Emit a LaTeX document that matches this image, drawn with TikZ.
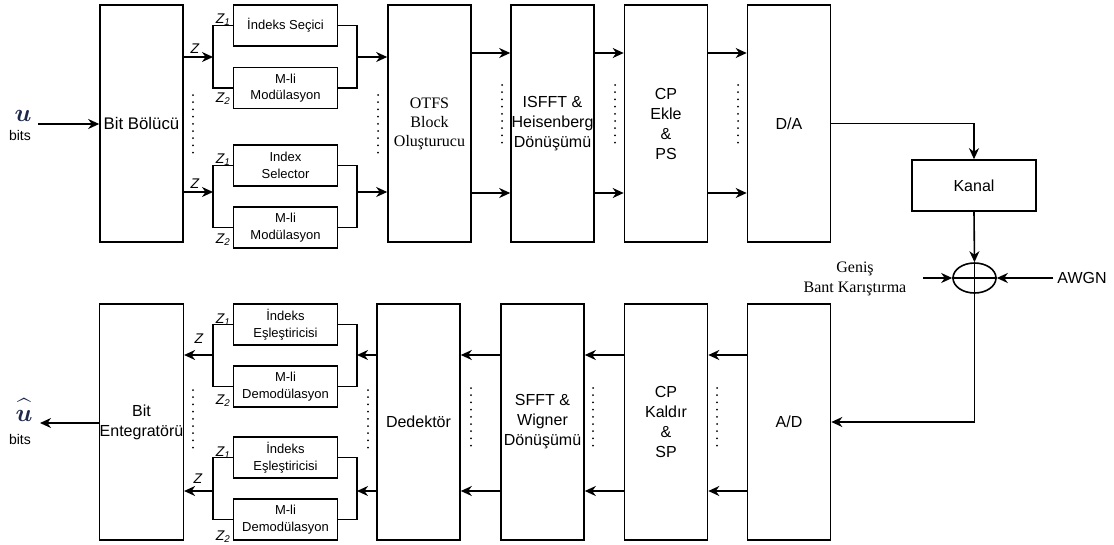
\documentclass[tikz,border=0pt]{standalone}
\usepackage{fontspec}
\usepackage{amsmath}
\setmainfont{Liberation Sans}
\newfontfamily\tnrfont{Liberation Serif}
\usetikzlibrary{arrows.meta,shapes.geometric}
\definecolor{bitsblu}{RGB}{30,40,75}

\begin{document}
\begin{tikzpicture}[x=1pt,y=-1pt,line width=1.6pt,
    bigbox/.style={draw, rectangle, minimum width=83pt, minimum height=237pt, inner sep=0pt, align=center, font=\fontsize{16}{20}\selectfont},
    smallbox/.style={draw, rectangle, minimum width=104pt, minimum height=41pt, inner sep=0pt, align=center, font=\fontsize{13}{16.5}\selectfont},
    freccia/.style={-{Stealth[length=11pt,width=10pt,inset=3.5pt]}},
    puntini/.style={line width=2pt, line cap=round, dash pattern=on 0pt off 7.2pt},
    zlab/.style={inner sep=0pt, font=\fontsize{14}{14}\selectfont\itshape}]
        \useasboundingbox (0,0) rectangle (1114,544);

        % Livello superiore
        \node[bigbox, font=\fontsize{16.8}{20}\selectfont] (bolucu) at (141.5,123.5) {Bit Bölücü};
        \node[bigbox, font=\tnrfont\fontsize{16}{19}\selectfont] (otfs) at (429.5,123.5) {OTFS\\Block\\Oluşturucu};
        \node[bigbox] (isfft) at (552.5,123.5) {ISFFT \&\\Heisenberg\\Dönüşümü};
        \node[bigbox] (cpekle) at (666,123.5) {CP\\Ekle\\\&\\PS};
        \node[bigbox] (da) at (789,123.5) {D/A};

        \node[smallbox] (isec1) at (285.5,25.5) {İndeks Seçici};
        \node[smallbox] (mod1) at (285.5,88) {M-li\\Modülasyon};
        \node[smallbox] (isel2) at (285.5,165.5) {Index\\Selector};
        \node[smallbox] (mod2) at (285.5,227.5) {M-li\\Modülasyon};

        \node[bigbox, draw, minimum width=124pt, minimum height=51pt] (kanal) at (974,185.5) {Kanal};
        \node[draw, ellipse, minimum width=43pt, minimum height=30pt, inner sep=0pt] (somma) at (974.5,278) {};
        \node[align=center, font=\tnrfont\fontsize{16}{20}\selectfont] (genis) at (855,279) {Geniş\\Bant Karıştırma};
        \node[font=\fontsize{16}{20}\selectfont] (awgn) at (1082,278) {AWGN};

        % Livello inferiore
        \node[bigbox, minimum height=236pt] (entegre) at (141.5,422) {Bit\\Entegratörü};
        \node[bigbox, minimum height=236pt] (dedektor) at (418.5,422) {Dedektör};
        \node[bigbox, minimum height=236pt] (sfft) at (542.5,422) {SFFT \&\\Wigner\\Dönüşümü};
        \node[bigbox, minimum height=236pt] (cpkaldir) at (666,422) {CP\\Kaldır\\\&\\SP};
        \node[bigbox, minimum height=236pt] (ad) at (789,422) {A/D};

        \node[smallbox] (ies1) at (285.5,324.5) {İndeks\\Eşleştiricisi};
        \node[smallbox] (dem1) at (285.5,386.5) {M-li\\Demodülasyon};
        \node[smallbox] (ies2) at (285.5,457.5) {İndeks\\Eşleştiricisi};
        \node[smallbox] (dem2) at (285.5,519.5) {M-li\\Demodülasyon};

        % Ingresso e uscita
        \node[text=bitsblu, inner sep=0pt, font=\fontsize{24}{24}\selectfont] (u) at (23,116) {$\boldsymbol{u}$};
        \node[inner sep=0pt, font=\fontsize{14}{14}\selectfont] (bitsin) at (20,135) {bits};
        \node[text=bitsblu, inner sep=0pt, font=\fontsize{24}{24}\selectfont] (uhat) at (24,410) {$\widehat{\boldsymbol{u}\vphantom{t}}$};
        \node[inner sep=0pt, font=\fontsize{14}{14}\selectfont] (bitsout) at (20,439) {bits};
        \coordinate (uin) at (38,124);
        \coordinate (uout) at (40,423);

        % Punti di diramazione
        \coordinate (s1) at (213,57);
        \coordinate (m1) at (357,57);
        \coordinate (s2) at (213,192);
        \coordinate (m2) at (357,192);
        \coordinate (l1) at (213,355);
        \coordinate (r1) at (357,355);
        \coordinate (l2) at (213,491);
        \coordinate (r2) at (357,491);
        \coordinate (alto) at (0,53);
        \coordinate (basso) at (0,193);
        \coordinate (gin) at (923,278);

        % Etichette Z
        \node[zlab] (z1) at (195,49) {Z};
        \node[zlab] (z11) at (223,20) {Z\textsubscript{1}};
        \node[zlab] (z12) at (223,99) {Z\textsubscript{2}};
        \node[zlab] (z2) at (195,184) {Z};
        \node[zlab] (z21) at (223,160) {Z\textsubscript{1}};
        \node[zlab] (z22) at (223,240) {Z\textsubscript{2}};
        \node[zlab] (z3) at (199,339) {Z};
        \node[zlab] (z31) at (223,320) {Z\textsubscript{1}};
        \node[zlab] (z32) at (223,401) {Z\textsubscript{2}};
        \node[zlab] (z4) at (198,479) {Z};
        \node[zlab] (z41) at (223,453) {Z\textsubscript{1}};
        \node[zlab] (z42) at (223,537) {Z\textsubscript{2}};

        % Collegamenti trasmettitore
        \draw[freccia] (uin) -- (uin -| bolucu.west);
        \draw[freccia] (bolucu.east |- s1) -- (s1);
        \draw (s1) |- (isec1.west);
        \draw (s1) |- (mod1.west);
        \draw (isec1.east) -| (m1);
        \draw (mod1.east) -| (m1);
        \draw[freccia] (m1) -- (otfs.west |- m1);
        \draw[freccia] (bolucu.east |- s2) -- (s2);
        \draw (s2) |- (isel2.west);
        \draw (s2) |- (mod2.west);
        \draw (isel2.east) -| (m2);
        \draw (mod2.east) -| (m2);
        \draw[freccia] (m2) -- (otfs.west |- m2);
        \draw[freccia] (otfs.east |- alto) -- (isfft.west |- alto);
        \draw[freccia] (otfs.east |- basso) -- (isfft.west |- basso);
        \draw[freccia] (isfft.east |- alto) -- (cpekle.west |- alto);
        \draw[freccia] (isfft.east |- basso) -- (cpekle.west |- basso);
        \draw[freccia] (cpekle.east |- alto) -- (da.west |- alto);
        \draw[freccia] (cpekle.east |- basso) -- (da.west |- basso);

        % Canale
        \draw[freccia] (da.east) -| (kanal.north);
        \draw[freccia] (kanal.south) -- (somma.north);
        \draw (somma.north) -- (somma.south);
        \draw (somma.west) -- (somma.east);
        \draw[freccia] (gin) -- (somma.west);
        \draw[freccia] (awgn.west) -- (somma.east);
        \draw[freccia] (somma.south) |- (ad.east);

        % Collegamenti ricevitore
        \draw[freccia] (ad.west |- r1) -- (cpkaldir.east |- r1);
        \draw[freccia] (ad.west |- r2) -- (cpkaldir.east |- r2);
        \draw[freccia] (cpkaldir.west |- r1) -- (sfft.east |- r1);
        \draw[freccia] (cpkaldir.west |- r2) -- (sfft.east |- r2);
        \draw[freccia] (sfft.west |- r1) -- (dedektor.east |- r1);
        \draw[freccia] (sfft.west |- r2) -- (dedektor.east |- r2);
        \draw[freccia] (dedektor.west |- r1) -- (r1);
        \draw (r1) |- (ies1.east);
        \draw (r1) |- (dem1.east);
        \draw (ies1.west) -| (l1);
        \draw (dem1.west) -| (l1);
        \draw[freccia] (l1) -- (entegre.east |- l1);
        \draw[freccia] (dedektor.west |- r2) -- (r2);
        \draw (r2) |- (ies2.east);
        \draw (r2) |- (dem2.east);
        \draw (ies2.west) -| (l2);
        \draw (dem2.west) -| (l2);
        \draw[freccia] (l2) -- (entegre.east |- l2);
        \draw[freccia] (entegre.west |- uout) -- (uout);

        % Puntini
        \draw[puntini] (193,95) -- (193,153);
        \draw[puntini] (378,95) -- (378,153);
        \draw[puntini] (502,85) -- (502,145);
        \draw[puntini] (615,85) -- (615,145);
        \draw[puntini] (738,85) -- (738,145);
        \draw[puntini] (193,390) -- (193,448);
        \draw[puntini] (368,390) -- (368,448);
        \draw[puntini] (471,388) -- (471,446);
        \draw[puntini] (593,388) -- (593,446);
        \draw[puntini] (717,388) -- (717,446);
\end{tikzpicture}
\end{document}
